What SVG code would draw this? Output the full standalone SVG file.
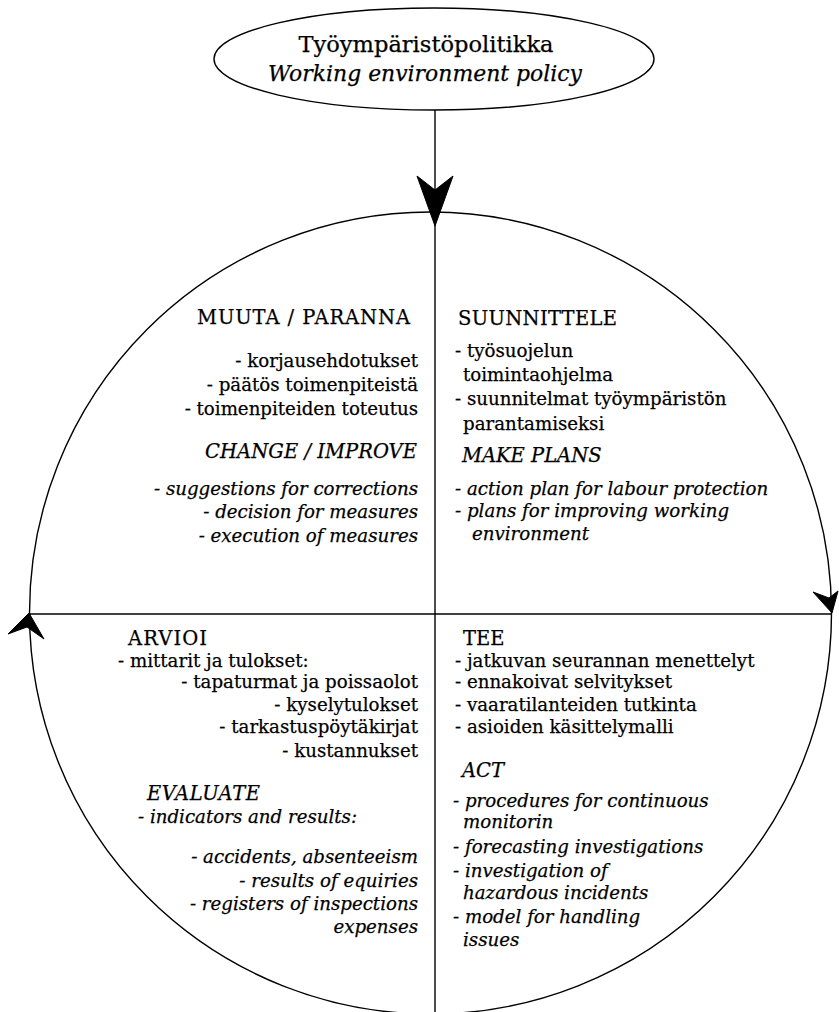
<svg xmlns="http://www.w3.org/2000/svg" width="839" height="1012" viewBox="0 0 839 1012">
<style>
.ln{fill:none;stroke:#000;stroke-width:1.4}
.ah{fill:#000;stroke:#000;stroke-width:1;stroke-linejoin:miter}
text{font-family:"DejaVu Serif","Liberation Serif",serif;font-size:18.2px;fill:#000;stroke:#000;stroke-width:0.25}
.t{font-size:22px}
.h{font-size:19.5px}
.i{font-style:italic}
.r{text-anchor:end}
.m{text-anchor:middle}
</style>
<rect width="839" height="1012" fill="#fff"/>
<g id="connectors">
<circle class="ln" cx="430.5" cy="613" r="401"/>
<line class="ln" x1="435" y1="110" x2="435" y2="1012"/>
<line class="ln" x1="29" y1="614" x2="832" y2="614"/>
<path class="ah" d="M435,226 L417,176 L435,190 L453,176 Z"/>
<path class="ah" d="M832,613 L813,592 L829,598 L838,591 Z"/>
<path class="ah" d="M29,613 L8,634 L27,627 L44,639 Z"/>
</g>
<g id="policy">
<ellipse class="ln" cx="434" cy="59" rx="220" ry="51"/>
<text class="t m" x="426" y="52" textLength="255" lengthAdjust="spacingAndGlyphs">Työympäristöpolitikka</text>
<text class="t m i" x="425" y="81" textLength="314" lengthAdjust="spacingAndGlyphs">Working environment policy</text>
</g>
<g id="change">
<text class="h" x="197" y="324" textLength="213" lengthAdjust="spacing">MUUTA / PARANNA</text>
<text class="r" x="418" y="367">- korjausehdotukset</text>
<text class="r" x="418" y="391">- päätös toimenpiteistä</text>
<text class="r" x="418" y="415">- toimenpiteiden toteutus</text>
<text class="h i" x="205" y="458" textLength="212" lengthAdjust="spacing">CHANGE / IMPROVE</text>
<text class="r i" x="418" y="495">- suggestions for corrections</text>
<text class="r i" x="418" y="518">- decision for measures</text>
<text class="r i" x="418" y="542">- execution of measures</text>
</g>
<g id="plan">
<text class="h" x="458" y="325" textLength="159" lengthAdjust="spacing">SUUNNITTELE</text>
<text x="455" y="357">- työsuojelun</text>
<text x="463" y="381">toimintaohjelma</text>
<text x="455" y="405">- suunnitelmat työympäristön</text>
<text x="463" y="430">parantamiseksi</text>
<text class="h i" x="462" y="462">MAKE PLANS</text>
<text class="i" x="455" y="495">- action plan for labour protection</text>
<text class="i" x="455" y="517">- plans for improving working</text>
<text class="i" x="472" y="540">environment</text>
</g>
<g id="evaluate">
<text class="h" x="128" y="645" textLength="79" lengthAdjust="spacing">ARVIOI</text>
<text x="118" y="667">- mittarit ja tulokset:</text>
<text class="r" x="418" y="688">- tapaturmat ja poissaolot</text>
<text class="r" x="418" y="711">- kyselytulokset</text>
<text class="r" x="418" y="733">- tarkastuspöytäkirjat</text>
<text class="r" x="418" y="757">- kustannukset</text>
<text class="h i" x="147" y="800" textLength="113" lengthAdjust="spacing">EVALUATE</text>
<text class="i" x="138" y="823">- indicators and results:</text>
<text class="r i" x="418" y="863">- accidents, absenteeism</text>
<text class="r i" x="418" y="887">- results of equiries</text>
<text class="r i" x="418" y="910">- registers of inspections</text>
<text class="r i" x="418" y="933">expenses</text>
</g>
<g id="act">
<text class="h" x="463" y="645">TEE</text>
<text x="455" y="667">- jatkuvan seurannan menettelyt</text>
<text x="455" y="688">- ennakoivat selvitykset</text>
<text x="455" y="711">- vaaratilanteiden tutkinta</text>
<text x="455" y="733">- asioiden käsittelymalli</text>
<text class="h i" x="462" y="777">ACT</text>
<text class="i" x="453" y="807">- procedures for continuous</text>
<text class="i" x="463" y="828">monitorin</text>
<text class="i" x="453" y="853">- forecasting investigations</text>
<text class="i" x="453" y="877">- investigation of</text>
<text class="i" x="463" y="899">hazardous incidents</text>
<text class="i" x="453" y="923">- model for handling</text>
<text class="i" x="463" y="946">issues</text>
</g>
</svg>
